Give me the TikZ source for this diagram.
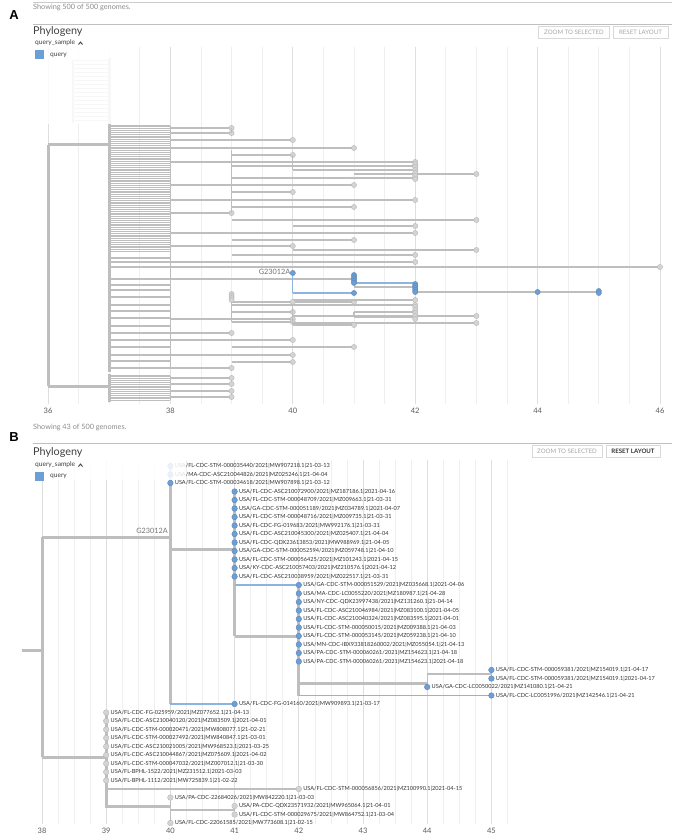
\documentclass[tikz,border=0pt]{standalone}
\usepackage{fontspec}
\setmainfont{Lato}
\newfontfamily\arialf{Liberation Sans}
\definecolor{brc}{HTML}{BEBEBE}
\definecolor{blc}{HTML}{6C9FD6}
\definecolor{blline}{HTML}{8DB3DE}
\definecolor{gridc}{HTML}{EFEFEF}
\definecolor{gridd}{HTML}{DEDEDE}
\definecolor{txtc}{HTML}{333333}
\definecolor{tipg}{HTML}{D4D4D4}
\definecolor{tipge}{HTML}{B8B8B8}
\newcommand\gdot[1]{\fill[tipg,draw=tipge,line width=0.4pt] #1 circle (2.6pt);}
\newcommand\bdot[1]{\fill[blc,draw=blc!85!black,line width=0.4pt] #1 circle (2.6pt);}
\begin{document}
\begin{tikzpicture}[x=1pt,y=-1pt,
  ln/.style={draw=brc,line width=1.1pt},
  thk/.style={draw=brc,line width=3pt},
  bln/.style={draw=blline,line width=1.3pt},
  gt/.style={circle,fill=tipg,draw=tipge,line width=0.4pt,inner sep=0pt,minimum size=5.6pt},
  bt/.style={circle,fill=blc,draw=blc!85!black,line width=0.4pt,inner sep=0pt,minimum size=5.6pt},
  lab/.style={anchor=west,inner sep=0pt,text=txtc,font=\fontsize{5.6}{6}\selectfont},
  ax/.style={inner sep=0pt,text=black!65,font=\fontsize{7.5}{8}\selectfont},
  hdr/.style={anchor=west,inner sep=0pt,text=black!45,font=\fontsize{7.3}{8}\selectfont},
  ttl/.style={anchor=west,inner sep=0pt,text=black!75,font=\fontsize{10.8}{11}\selectfont},
  leg/.style={anchor=west,inner sep=0pt,text=black!75,font=\fontsize{6.6}{7}\selectfont},
  btn/.style={draw=black!15,line width=0.5pt,inner sep=0pt,minimum height=12pt,text=black!35,font=\fontsize{6.1}{7}\selectfont},
  pl/.style={inner sep=0pt,font=\arialf\bfseries\fontsize{13}{14}\selectfont}
]
\useasboundingbox (0,0) rectangle (680,837);
\fill[white] (0,0) rectangle (680,837);

% ================= PANEL A =================
\node[pl] (labA) at (14,15) {A};
\draw[black!20,line width=0.6pt] (33,2) -- (672,2);
\node[hdr] (showA) at (33,7) {Showing 500 of 500 genomes.};
\draw[black!25,line width=0.6pt] (33,24) -- (672,24);
\node[ttl] (phyA) at (33,31.5) {Phylogeny};
\node[btn,minimum width=71pt] (zoomA) at (574,32) {ZOOM TO SELECTED};
\node[btn,minimum width=55pt] (resetA) at (640.5,32) {RESET LAYOUT};

% grid A
\foreach \i in {0,...,20}{\pgfmathsetmacro\gx{48+30.6*\i}\draw[gridc,line width=0.7pt] (\gx,47) -- (\gx,404);}
\foreach \i in {0,4,...,20}{\pgfmathsetmacro\gx{48+30.6*\i}\draw[gridd,line width=0.8pt] (\gx,47) -- (\gx,404);}
\foreach \u [count=\j from 0] in {36,38,40,42,44,46}{\pgfmathsetmacro\gx{48+122.4*\j}\node[ax] (axA\u) at (\gx,411) {\u};}

% tree A
\draw[thk] (48,145) -- (48,386);
\draw[thk] (48,145) -- (109.2,145);
\draw[thk] (48,386) -- (109.2,386);
\draw[thk] (109.2,58) -- (109.2,372);
\draw[thk] (109.2,374) -- (109.2,402);
\draw[ln,line width=2pt] (73,60) -- (73,123);
\foreach \y in {60,64,...,123}{\draw[ln,line width=0.9pt] (73,\y) -- (109.2,\y);}
\foreach \y in {126,128.2,...,252}{\draw[ln,line width=1.3pt] (109.2,\y) -- (170.4,\y);}
\draw[ln] (170.4,126) -- (170.4,252);
\foreach \y in {258,262,267,285,290,297,305,311,318,326,333,340,347,355,361,368}{\draw[ln] (109.2,\y) -- (170.4,\y);}
\foreach \y/\a/\b in {128/170.4/231.6,133/170.4/231.6,140/170.4/292.8,148/170.4/354,155/231.6/292.8,162/170.4/415.2,166/231.6/415.2,170/292.8/415.2,174/354/476.4,178/231.6/415.2,185/170.4/354,192/231.6/292.8,200/170.4/415.2,207/231.6/354,213/170.4/231.6,220/231.6/476.4,226/292.8/415.2,233/170.4/415.2,240/231.6/354,246/170.4/292.8,250/292.8/476.4,255/231.6/415.2,262/170.4/415.2,267/170.4/660,302/231.6/354,300/292.8/415.2,305/231.6/415.2,312/231.6/292.8,316/292.8/476.4,319/170.4/292.8,322/231.6/292.8,323/292.8/476.4,325/292.8/354,333/170.4/231.6,340/170.4/292.8,347/231.6/354,355/170.4/292.8,362/231.6/292.8,368/170.4/231.6}{
  \draw[ln] (\a,\y) -- (\b,\y);
  \gdot{(\b,\y)}
}
\foreach \x/\ya/\yb in {231.6/128/133,170.4/128/368,231.6/150/213,292.8/155/170,415.2/162/180,231.6/293/322,415.2/305/320,292.8/300/325,354/312/317}{\draw[ln] (\x,\ya) -- (\x,\yb);}
\draw[ln] (354,312) -- (415.2,312);
\draw[ln] (354,317) -- (415.2,317);
\foreach \y in {164,167,170,173,176,179}{\gdot{(415.2,\y)}}
\foreach \y in {294,296,298,300}{\gdot{(231.6,\y)}}
\foreach \y in {307,310,313,316,319}{\gdot{(415.2,\y)}}
\gdot{(292.8,302)}
% G23012A subtree
\draw[ln,line width=1.5pt] (109.2,279) -- (354,279);
\draw[bln] (292.8,273) -- (292.8,293);
\draw[bln] (292.8,293) -- (354,293);
\draw[bln] (354,283) -- (415.2,283);
\draw[ln] (354,287) -- (415.2,287);
\draw[ln,line width=2pt] (415.2,292) -- (598.8,292);
\foreach \y in {275,277,279,281,283}{\bdot{(354,\y)}}
\foreach \y in {284,286,288,290,292}{\bdot{(415.2,\y)}}
\bdot{(354,293)}
\bdot{(537.6,292)}
\bdot{(598.8,291)}\bdot{(598.8,293)}
\bdot{(292.8,273)}
\node[anchor=east,inner sep=0pt,text=black!55,font=\fontsize{7.3}{8}\selectfont] (gA) at (290.5,272) {G23012A};
% bottom cluster
\foreach \y in {376,378.2,...,402}{\draw[ln,line width=1.3pt] (109.2,\y) -- (170.4,\y);}
\foreach \y in {378,384,391,397}{\draw[ln] (170.4,\y) -- (231.6,\y); \gdot{(231.6,\y)}}
\draw[ln] (170.4,376) -- (170.4,400);
% legend A
\fill[white,opacity=0.88] (30,38) rectangle (116,124);
\node[leg] (qsA) at (35,43) {query\_sample};
\draw[black!75,line width=0.9pt] (78.5,44.5) -- (80.5,42) -- (82.5,44.5);
\fill[blc] (34.5,50.5) rectangle (43.5,59.5);
\node[leg] (qA) at (50,55) {query};

% ================= PANEL B =================
\node[pl] (labB) at (14,437) {B};
\node[hdr] (showB) at (33,427.5) {Showing 43 of 500 genomes.};
\draw[black!25,line width=0.6pt] (33,443.5) -- (672,443.5);
\node[ttl] (phyB) at (33,452.5) {Phylogeny};
\node[btn,minimum width=70pt] (zoomB) at (567,451) {ZOOM TO SELECTED};
\node[btn,minimum width=54pt,text=black!80,font=\bfseries\fontsize{6.1}{7}\selectfont] (resetB) at (633,451) {RESET LAYOUT};

% grid B
\foreach \i in {0,...,29}{\pgfmathsetmacro\gx{42+16.05*\i}\draw[gridc,line width=0.7pt] (\gx,460) -- (\gx,824);}
\foreach \i in {0,4,...,28}{\pgfmathsetmacro\gx{42+16.05*\i}\draw[gridd,line width=0.8pt] (\gx,460) -- (\gx,824);}
\foreach \u [count=\j from 0] in {38,39,40,41,42,43,44,45}{\pgfmathsetmacro\gx{42+64.2*\j}\node[ax] (axB\u) at (\gx,831) {\u};}

% edges B
\draw[thk] (22,650) -- (42,650);
\draw[thk] (42,537) -- (42,757);
\draw[thk] (42,537) -- (170.4,537);
\draw[thk] (170.4,466) -- (170.4,704);
\draw[thk] (170.4,549) -- (234.6,549);
\draw[thk] (234.6,492) -- (234.6,636);
\draw[bln] (234.6,585) -- (298.8,585);
\draw[thk] (234.6,636) -- (298.8,636);
\draw[thk] (298.8,585) -- (298.8,695.5);
\draw[thk] (298.8,683) -- (427.2,683);
\draw[ln] (427.2,674) -- (427.2,687);
\draw[ln] (427.2,674) -- (491.4,674);
\draw[ln] (491.4,670) -- (491.4,678.5);
\draw[bln] (298.8,695.5) -- (491.4,695.5);
\draw[bln] (170.4,704) -- (234.6,704);
\draw[thk] (42,757) -- (106.2,757);
\draw[thk] (106.2,712.5) -- (106.2,808);
\draw[ln] (106.2,789) -- (298.8,789);
\draw[thk] (106.2,806) -- (170.4,806);
\draw[ln] (170.4,797.5) -- (170.4,823);
\draw[ln] (170.4,810) -- (234.6,810);
\draw[ln] (234.6,806) -- (234.6,814.5);
\node[anchor=south east,inner sep=0pt,text=black!55,font=\fontsize{7.3}{8}\selectfont] (gB) at (168,534) {G23012A};

\newcommand\tipB[4]{\node[#3] (t#1) at (#2,{466+8.5*#1}) {}; \node[lab] (l#1) at ([xshift=4.3pt]t#1.center) {#4};}
\tipB{0}{170.4}{bt}{USA/FL-CDC-STM-000035440/2021|MW907218.1|21-03-13}
\tipB{1}{170.4}{bt}{USA/MA-CDC-ASC210044826/2021|MZ025246.1|21-04-04}
\tipB{2}{170.4}{bt}{USA/FL-CDC-STM-000034618/2021|MW907898.1|21-03-12}
\tipB{3}{234.6}{bt}{USA/FL-CDC-ASC210072900/2021|MZ187186.1|2021-04-16}
\tipB{4}{234.6}{bt}{USA/FL-CDC-STM-000048709/2021|MZ009663.1|21-03-31}
\tipB{5}{234.6}{bt}{USA/GA-CDC-STM-000051189/2021|MZ034789.1|2021-04-07}
\tipB{6}{234.6}{bt}{USA/FL-CDC-STM-000048716/2021|MZ009735.1|21-03-31}
\tipB{7}{234.6}{bt}{USA/FL-CDC-FG-019683/2021|MW992176.1|21-03-31}
\tipB{8}{234.6}{bt}{USA/FL-CDC-ASC210045300/2021|MZ025407.1|21-04-04}
\tipB{9}{234.6}{bt}{USA/FL-CDC-QDX23613853/2021|MW988969.1|21-04-05}
\tipB{10}{234.6}{bt}{USA/GA-CDC-STM-000052594/2021|MZ059748.1|21-04-10}
\tipB{11}{234.6}{bt}{USA/FL-CDC-STM-000056425/2021|MZ101243.1|2021-04-15}
\tipB{12}{234.6}{bt}{USA/KY-CDC-ASC210057403/2021|MZ210576.1|2021-04-12}
\tipB{13}{234.6}{bt}{USA/FL-CDC-ASC210038959/2021|MZ022517.1|21-03-31}
\tipB{14}{298.8}{bt}{USA/GA-CDC-STM-000051529/2021|MZ035668.1|2021-04-06}
\tipB{15}{298.8}{bt}{USA/MA-CDC-LC0055220/2021|MZ180987.1|21-04-28}
\tipB{16}{298.8}{bt}{USA/NY-CDC-QDX23997438/2021|MZ131260.1|21-04-14}
\tipB{17}{298.8}{bt}{USA/FL-CDC-ASC210046984/2021|MZ083100.1|2021-04-05}
\tipB{18}{298.8}{bt}{USA/FL-CDC-ASC210040324/2021|MZ083595.1|2021-04-01}
\tipB{19}{298.8}{bt}{USA/FL-CDC-STM-000050015/2021|MZ009388.1|21-04-03}
\tipB{20}{298.8}{bt}{USA/FL-CDC-STM-000053145/2021|MZ059238.1|21-04-10}
\tipB{21}{298.8}{bt}{USA/MN-CDC-IBX933818260002/2021|MZ055054.1|21-04-13}
\tipB{22}{298.8}{bt}{USA/PA-CDC-STM-000060261/2021|MZ154623.1|21-04-18}
\tipB{23}{298.8}{bt}{USA/PA-CDC-STM-000060261/2021|MZ154623.1|2021-04-18}
\tipB{24}{491.4}{bt}{USA/FL-CDC-STM-000059381/2021|MZ154019.1|21-04-17}
\tipB{25}{491.4}{bt}{USA/FL-CDC-STM-000059381/2021|MZ154019.1|2021-04-17}
\tipB{26}{427.2}{bt}{USA/GA-CDC-LC0050022/2021|MZ141080.1|21-04-21}
\tipB{27}{491.4}{bt}{USA/FL-CDC-LC0051996/2021|MZ142546.1|21-04-21}
\tipB{28}{234.6}{bt}{USA/FL-CDC-FG-014160/2021|MW909893.1|21-03-17}
\tipB{29}{106.2}{gt}{USA/FL-CDC-FG-025959/2021|MZ077652.1|21-04-13}
\tipB{30}{106.2}{gt}{USA/FL-CDC-ASC210040120/2021|MZ083509.1|2021-04-01}
\tipB{31}{106.2}{gt}{USA/FL-CDC-STM-000020471/2021|MW808077.1|21-02-21}
\tipB{32}{106.2}{gt}{USA/FL-CDC-STM-000027492/2021|MW840847.1|21-03-01}
\tipB{33}{106.2}{gt}{USA/FL-CDC-ASC210021005/2021|MW968523.1|2021-03-25}
\tipB{34}{106.2}{gt}{USA/FL-CDC-ASC210044867/2021|MZ075609.1|2021-04-02}
\tipB{35}{106.2}{gt}{USA/FL-CDC-STM-000047032/2021|MZ007012.1|21-03-30}
\tipB{36}{106.2}{gt}{USA/FL-BPHL-1522/2021|MZ231512.1|2021-03-03}
\tipB{37}{106.2}{gt}{USA/FL-BPHL-1112/2021|MW725839.1|21-02-22}
\tipB{38}{298.8}{gt}{USA/FL-CDC-STM-000056856/2021|MZ100990.1|2021-04-15}
\tipB{39}{170.4}{gt}{USA/PA-CDC-22684026/2021|MW842220.1|21-03-03}
\tipB{40}{234.6}{gt}{USA/PA-CDC-QDX23571932/2021|MW965064.1|21-04-01}
\tipB{41}{234.6}{gt}{USA/FL-CDC-STM-000029675/2021|MW864752.1|21-03-04}
\tipB{42}{170.4}{gt}{USA/FL-CDC-22061585/2021|MW773608.1|21-02-15}

% legend B
\fill[white,opacity=0.85] (30,459) rectangle (186,480);
\node[leg] (qsB) at (35,465) {query\_sample};
\draw[black!75,line width=0.9pt] (78.5,466.5) -- (80.5,464) -- (82.5,466.5);
\fill[blc] (34.5,471.5) rectangle (43.5,480.5);
\node[leg] (qB) at (50,476) {query};
\end{tikzpicture}
\end{document}
